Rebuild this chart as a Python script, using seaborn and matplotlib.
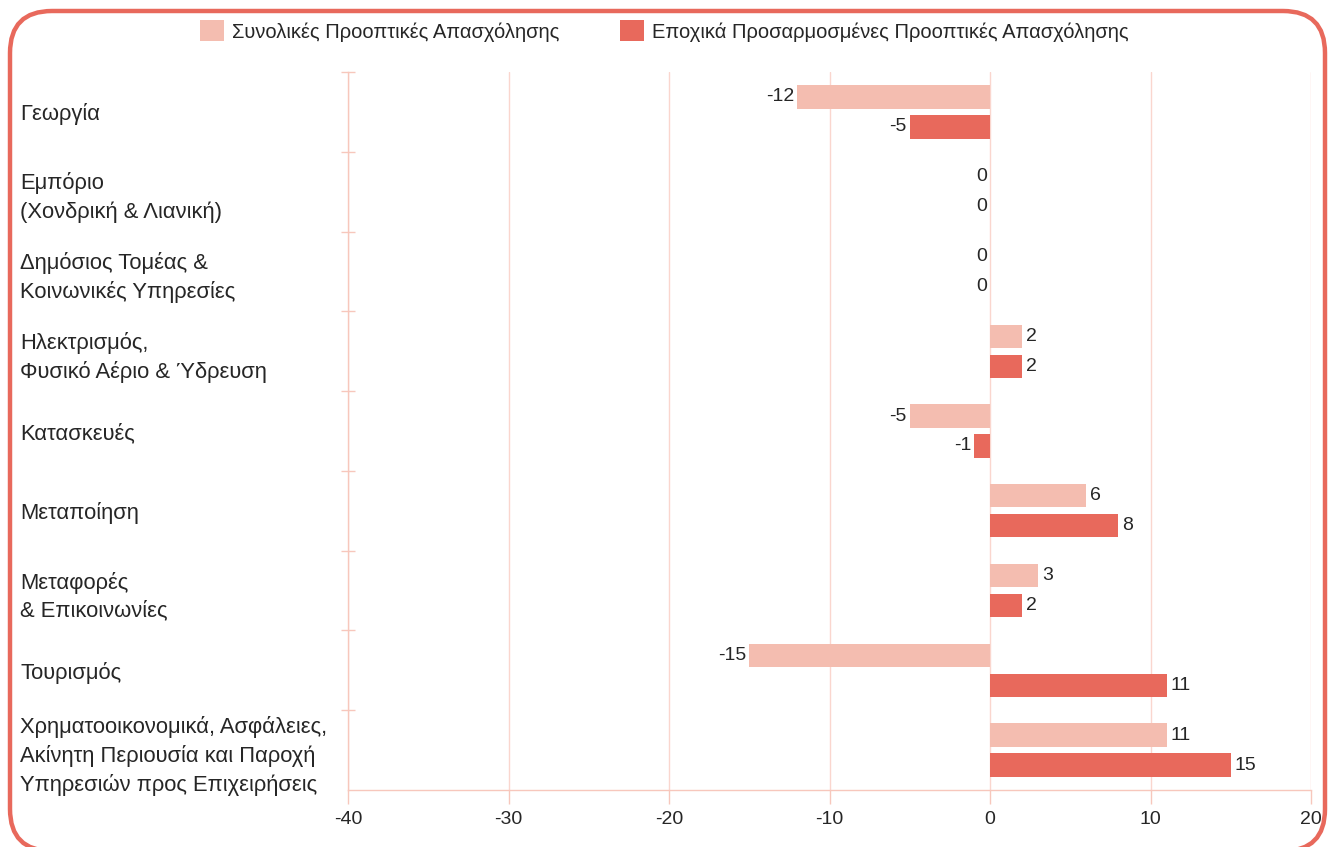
import matplotlib
matplotlib.use('Agg')
import matplotlib.pyplot as plt
import matplotlib.transforms as mtransforms
from matplotlib.patches import FancyBboxPatch, Patch
import seaborn as sns
import pandas as pd
import numpy as np

# Data
sectors = [
    'Γεωργία',
    'Εμπόριο\n(Χονδρική & Λιανική)',
    'Δημόσιος Τομέας &\nΚοινωνικές Υπηρεσίες',
    'Ηλεκτρισμός,\nΦυσικό Αέριο & Ύδρευση',
    'Κατασκευές',
    'Μεταποίηση',
    'Μεταφορές\n& Επικοινωνίες',
    'Τουρισμός',
    'Χρηματοοικονομικά, Ασφάλειες,\nΑκίνητη Περιουσία και Παροχή\nΥπηρεσιών προς Επιχειρήσεις',
]
series_names = ['Συνολικές Προοπτικές Απασχόλησης',
                'Εποχικά Προσαρμοσμένες Προοπτικές Απασχόλησης']
overall = [-12, 0, 0, 2, -5, 6, 3, -15, 11]
seasonal = [-5, 0, 0, 2, -1, 8, 2, 11, 15]
x_ticks = [-40, -30, -20, -10, 0, 10, 20]

colors = ['#F4BDB0', '#E8695C']
pink = '#F7C7BC'
text_col = '#262626'

df = pd.DataFrame({
    'sector': sectors * 2,
    'series': [series_names[0]] * len(sectors) + [series_names[1]] * len(sectors),
    'value': overall + seasonal,
})

sns.set_style('white')
plt.rcParams['font.family'] = ['Liberation Sans', 'DejaVu Sans']

fig = plt.figure(figsize=(13.29, 8.47), dpi=100)
ax = fig.add_axes([348 / 1329, 1 - 790 / 847, (1311 - 348) / 1329, (790 - 72) / 847])

sns.barplot(data=df, y='sector', x='value', hue='series', order=sectors,
            hue_order=series_names, palette=colors, orient='h',
            width=0.75, gap=0.22, saturation=1, legend=False, linewidth=0, ax=ax)

ax.set_xlim(-40, 20)
ax.set_ylim(len(sectors) - 0.5, -0.5)
ax.set_xticks(x_ticks)
ax.set_xticklabels([str(t) for t in x_ticks], fontsize=14, color=text_col)
ax.tick_params(axis='x', bottom=True, direction='out', length=10, width=1, color=pink, pad=5)
ax.set_xlabel('')
ax.set_ylabel('')

# category labels, left aligned at the figure edge
ax.set_yticks(range(len(sectors)))
ax.set_yticklabels(sectors, fontsize=15.8, color=text_col, ha='left',
                   linespacing=1.42)
ax.tick_params(axis='y', which='major', left=True, length=0, pad=236)
ax.set_yticks(np.arange(-0.5, len(sectors) - 1, 1), minor=True)
ax.tick_params(axis='y', which='minor', left=True, direction='inout', length=10,
               width=1, color=pink)

ax.grid(axis='x', color='#FAD6CE', linewidth=1)
ax.grid(axis='y', visible=False)
ax.set_axisbelow(True)
for side in ['top', 'right']:
    ax.spines[side].set_visible(False)
for side in ['left', 'bottom']:
    ax.spines[side].set_color(pink)
    ax.spines[side].set_linewidth(1)

# value labels
off = 0.1875
for i in range(len(sectors)):
    for val, dy in [(overall[i], -off), (seasonal[i], off)]:
        if val > 0:
            ax.annotate(str(val), (val, i + dy), xytext=(3, 0), textcoords='offset points',
                        ha='left', va='center', fontsize=14, color=text_col)
        else:
            ax.annotate(str(val), (val, i + dy), xytext=(-2, 0), textcoords='offset points',
                        ha='right', va='center', fontsize=14, color=text_col)

# legend
handles = [Patch(facecolor=c, edgecolor='none') for c in colors]
fig.legend(handles, series_names, loc='center', bbox_to_anchor=(0.5, 1 - 31 / 847),
           ncol=2, frameon=False, fontsize=14.5, handlelength=1.2, handleheight=1.2,
           handletextpad=0.4, columnspacing=3.0, labelcolor=text_col)

# rounded border
border = FancyBboxPatch((10, -4), 1315, 847 - 11 + 4,
                        boxstyle='round,pad=0,rounding_size=42',
                        transform=mtransforms.IdentityTransform(),
                        facecolor='none', edgecolor='#E8695C', linewidth=3.2)
fig.patches.append(border)

fig.savefig('out.png', dpi=100)
